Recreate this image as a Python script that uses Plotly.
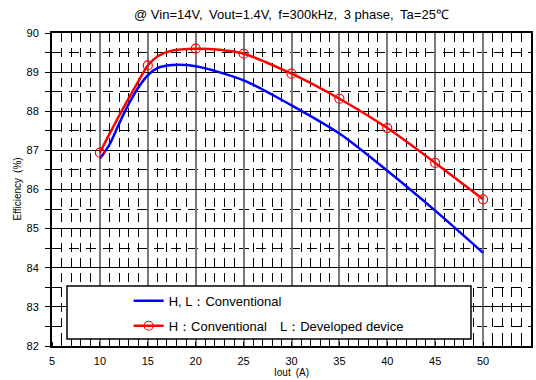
import plotly.graph_objects as go

# Data
blue_x = [10, 11, 12, 13, 14, 15, 16, 17.5, 20, 25, 30, 35, 40, 45, 50]
blue_y = [86.79, 87.15, 87.68, 88.18, 88.60, 88.92, 89.10, 89.18, 89.15, 88.79, 88.15, 87.43, 86.48, 85.46, 84.38]

red_line_x = [10, 11, 12, 13, 14, 15, 16, 17.5, 20, 22.5, 25, 30, 35, 40, 45, 50]
red_line_y = [86.94, 87.42, 87.88, 88.33, 88.76, 89.17, 89.40, 89.55, 89.60, 89.57, 89.47, 88.96, 88.32, 87.57, 86.68, 85.75]

red_x = [10, 15, 20, 25, 30, 35, 40, 45, 50]
red_y = [86.94, 89.17, 89.60, 89.47, 88.96, 88.32, 87.57, 86.68, 85.75]

blue_name = "H, L：Conventional"
red_name = "H：Conventional　L：Developed device"
title_text = "@ Vin=14V,\u2002Vout=1.4V,\u2002f=300kHz,\u20023 phase,\u2002Ta=25℃"
x_title = "Iout\u2002(A)"
y_title = "Efficiency\u2002(%)"
x_ticks = [5, 10, 15, 20, 25, 30, 35, 40, 45, 50, 55]
y_ticks = [82, 83, 84, 85, 86, 87, 88, 89, 90]

FONT = "Liberation Sans, Arial, sans-serif"
RED_LINE = dict(color="#FF0000", width=2.5)
RED_MARK = dict(symbol="circle-open", size=9, color="#FF0000", line=dict(width=1.2))

fig = go.Figure()
fig.add_trace(go.Scatter(
    x=blue_x, y=blue_y, mode="lines", name=blue_name,
    line=dict(color="#0000FF", width=2.5, shape="spline", smoothing=0.8),
    legendgroup="a",
))
fig.add_trace(go.Scatter(
    x=red_line_x, y=red_line_y, mode="lines", showlegend=False,
    line=dict(**RED_LINE, shape="spline", smoothing=0.8),
    legendgroup="b", hoverinfo="skip",
))
fig.add_trace(go.Scatter(
    x=red_x, y=red_y, mode="markers", showlegend=False,
    marker=RED_MARK, legendgroup="b",
))
# legend entry (line + marker)
fig.add_trace(go.Scatter(
    x=[None], y=[None], mode="lines+markers", name=red_name,
    line=RED_LINE, marker=RED_MARK, legendgroup="b",
))

# legend box
fig.add_shape(type="rect", xref="paper", yref="paper",
              x0=0.0313, x1=0.8747, y0=0.0224, y1=0.1917,
              fillcolor="white", line=dict(color="black", width=1.5), layer="above")

fig.update_layout(
    width=536, height=380,
    margin=dict(l=52, r=5, t=33, b=34, autoexpand=False),
    paper_bgcolor="white", plot_bgcolor="white",
    font=dict(family=FONT, size=11, color="black"),
    title=dict(text=title_text, x=0.5438, xanchor="center", y=0.962, yanchor="middle",
               font=dict(size=13, family=FONT)),
    showlegend=True,
    legend=dict(x=0.160, xanchor="left", y=0.192, yanchor="top",
                bgcolor="rgba(0,0,0,0)", borderwidth=0,
                font=dict(size=13, family=FONT),
                traceorder="grouped", tracegroupgap=5,
                itemwidth=30),
    annotations=[
        dict(text=x_title, xref="paper", yref="paper", x=0.4997, y=-0.1086,
             xanchor="center", yanchor="bottom", showarrow=False,
             font=dict(size=10, family=FONT)),
        dict(text=y_title, xref="paper", yref="paper", x=-0.073, y=0.5,
             xanchor="center", yanchor="middle", showarrow=False, textangle=-90,
             font=dict(size=10, family=FONT)),
    ],
)

fig.update_xaxes(
    range=[5, 55], tickvals=x_ticks, ticktext=[str(v) for v in x_ticks],
    showline=True, linecolor="black", linewidth=2, mirror=True,
    showgrid=True, gridcolor="#7a7a7a", gridwidth=2,
    ticks="", ticklabelstandoff=4,
    minor=dict(dtick=1, showgrid=True, gridcolor="#000000", gridwidth=1,
               griddash="9px,6px", ticks="inside", ticklen=4, tickcolor="black"),
    zeroline=False,
)
fig.update_yaxes(
    range=[82, 90], tickvals=y_ticks, ticktext=[str(v) for v in y_ticks],
    showline=True, linecolor="black", linewidth=2, mirror=True,
    showgrid=True, gridcolor="#000000", gridwidth=1,
    ticks="outside", ticklen=5, tickcolor="black", ticklabelstandoff=4,
    minor=dict(dtick=0.5, showgrid=True, gridcolor="#000000", gridwidth=1,
               griddash="10px,7px", ticks="outside", ticklen=5, tickcolor="black"),
    zeroline=False,
)

fig.write_html("out.html", config={"displayModeBar": False},
               post_script="document.body.style.margin='0';document.body.style.overflow='hidden';")
